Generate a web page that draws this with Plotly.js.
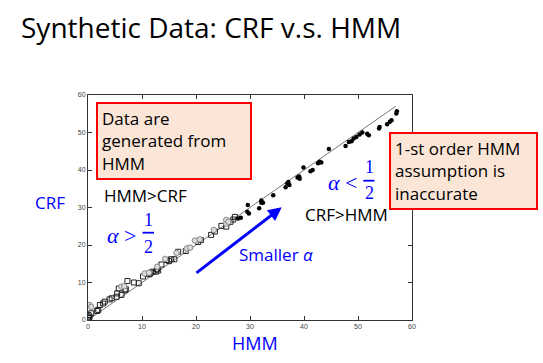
<!DOCTYPE html>
<html>
<head>
<meta charset="utf-8">
<script src="https://cdn.plot.ly/plotly-3.0.1.min.js"></script>
<style>html,body{margin:0;padding:0;background:#fff;}#chart{width:543px;height:363px;}</style>
</head>
<body>
<div id="chart"></div>
<script>
// ---- data ----
const refLineX = [0, 57];
const refLineY = [0, 57];

// open black squares (alpha > 1/2 region)
const squareX = [0,0.2,0.1,0.6,0.3,1.7,1.9,2.2,2.8,3.1,4.0,4.4,5.3,5.4,5.7,6.2,6.8,7.0,7.3,8.5,9.4,10.2,10.9,11.4,11.6,12.0,12.6,12.8,13.0,13.6,14.6,15.0,15.4,16.0,16.7,18.1,20.4,20.9,22.8,23.5,24.7,25.6,25.9,26.4,26.9,27.2];
const squareY = [0,0.5,1.3,1.8,0.9,2.4,2.7,4.0,4.4,4.9,5.5,5.8,6.2,7.1,8.4,6.7,7.9,8.2,10.4,10.0,9.8,11.6,12.3,12.2,12.6,12.9,12.9,13.5,13.2,14.8,16.0,15.7,16.2,16.2,18.2,18.4,20.8,21.3,22.7,23.6,25.1,24.9,26.0,26.2,26.8,27.5];

// gray circles
const grayX = [0.3,0.6,6.2,6.7,10.5,11.3,12.8,14.3,16.4,18.3,18.9,19.8,20.7,23.3,25.6,25.6,26.0];
const grayY = [4.0,3.5,8.9,9.0,12.4,12.6,14.2,16.3,17.9,19.1,19.3,21.2,21.5,24.0,25.7,26.7,26.2];

// filled black dots (alpha < 1/2 region)
const dotX = [27.8,28.3,29.5,29.8,29.6,31.7,32.1,32.4,32.1,34.3,36.6,36.9,37.1,37.3,38.8,39.1,39.2,39.9,41.2,41.6,42.6,42.9,43.2,44.6,47.7,48.3,48.8,49.2,49.7,50.3,50.8,51.7,52.0,53.9,54.0,55.4,55.9,56.2,57.1,57.2];
const dotY = [27.1,27.3,28.9,28.4,30.7,29.8,31.3,31.3,31.9,33.3,35.4,36.4,36.8,36.0,38.0,38.3,37.7,40.7,39.7,40.0,41.8,42.2,42.0,45.6,46.4,47.5,47.7,48.4,48.8,49.5,50.0,49.7,49.3,51.1,51.5,52.2,52.9,53.3,55.1,55.7];

const tickVals = [0,10,20,30,40,50,60];
const tickText = ['0','10','20','30','40','50','60'];

// ---- layout helpers (pixel -> paper) ----
const L = 88, R = 412, T = 95, B = 320;
const px = x => (x - L) / (R - L);
const py = y => (B - y) / (B - T);
const BLUE = '#0000ff';
const SANS = 'Open Sans, sans-serif';
const SERIF = 'Liberation Serif, DejaVu Serif, serif';

const traces = [
  {x: refLineX, y: refLineY, mode: 'lines', line: {color: '#777', width: 1}, hoverinfo: 'skip'},
  {x: squareX, y: squareY, mode: 'markers',
   marker: {symbol: 'square-open', size: 5, color: '#222', line: {width: 1}}},
  {x: grayX, y: grayY, mode: 'markers',
   marker: {symbol: 'circle', size: 5.5, color: '#dadada', line: {color: '#888', width: 1}}},
  {x: dotX, y: dotY, mode: 'markers',
   marker: {symbol: 'circle', size: 4.5, color: '#000'}}
];

function txt(text, x, y, opts) {
  return Object.assign({text: text, xref: 'paper', yref: 'paper', x: px(x), y: py(y),
    xanchor: 'left', yanchor: 'middle', showarrow: false,
    font: {family: SANS, size: 17, color: '#000'}}, opts || {});
}

const annotations = [
  txt('Synthetic Data: CRF v.s. HMM', 19, 27, {font: {family: SANS, size: 28, color: '#000'}}),
  txt('CRF', 33, 202, {font: {family: SANS, size: 17, color: BLUE}}),
  txt('HMM', 230, 343, {font: {family: SANS, size: 18, color: BLUE}}),
  txt('HMM>CRF', 102, 195),
  txt('CRF>HMM', 303, 214),
  txt('Smaller <i>α</i>', 237, 254, {font: {family: SANS, size: 17, color: BLUE}}),
  // alpha > 1/2
  txt('<i>α</i> >', 105, 235, {font: {family: SERIF, size: 22, color: BLUE}}),
  txt('1', 148.3, 220, {xanchor: 'center', font: {family: SERIF, size: 18, color: BLUE}}),
  txt('2', 148.3, 246.5, {xanchor: 'center', font: {family: SERIF, size: 18, color: BLUE}}),
  // alpha < 1/2
  txt('<i>α</i> <', 326, 182, {font: {family: SERIF, size: 22, color: BLUE}}),
  txt('1', 369, 166.5, {xanchor: 'center', font: {family: SERIF, size: 18, color: BLUE}}),
  txt('2', 369, 193, {xanchor: 'center', font: {family: SERIF, size: 18, color: BLUE}}),
  // boxes
  txt('Data are<br>generated from<br>HMM', 96, 101.7, {yanchor: 'top', align: 'left', valign: 'middle',
    width: 144, height: 66, bgcolor: '#fbe5d6', bordercolor: '#ff0000', borderwidth: 2, borderpad: 4}),
  txt('1-st order HMM<br>assumption is<br>inaccurate', 389.3, 132.3, {yanchor: 'top', align: 'left', valign: 'middle',
    width: 137, height: 66, bgcolor: '#fbe5d6', bordercolor: '#ff0000', borderwidth: 2, borderpad: 4}),
  // arrow
  {xref: 'paper', yref: 'paper', x: px(281.7), y: py(207.3), ax: 195 - 281.7, ay: 274 - 207.3,
   text: '', showarrow: true, arrowhead: 2, arrowsize: 0.9, arrowwidth: 3, arrowcolor: BLUE}
];

const shapes = [
  {type: 'line', xref: 'paper', yref: 'paper', x0: px(142.5), x1: px(154), y0: py(232.7), y1: py(232.7),
   line: {color: BLUE, width: 1.8}},
  {type: 'line', xref: 'paper', yref: 'paper', x0: px(363.3), x1: px(374.5), y0: py(180.7), y1: py(180.7),
   line: {color: BLUE, width: 1.8}}
];

const axisCommon = {
  range: [0, 60], tickvals: tickVals, ticktext: tickText,
  ticks: 'inside', ticklen: 4, tickcolor: '#333', tickwidth: 1,
  showline: true, linecolor: '#333', linewidth: 1, mirror: 'ticks',
  showgrid: false, zeroline: false,
  tickfont: {family: 'Liberation Sans, Arial, sans-serif', size: 7, color: '#444'}
};

const layout = {
  width: 543, height: 363,
  margin: {l: L, r: 543 - R, t: T, b: 363 - B, pad: 0},
  paper_bgcolor: '#fff', plot_bgcolor: '#fff',
  showlegend: false,
  font: {family: SANS},
  xaxis: Object.assign({}, axisCommon),
  yaxis: Object.assign({}, axisCommon),
  annotations: annotations,
  shapes: shapes
};

Plotly.newPlot('chart', traces, layout, {staticPlot: true, displayModeBar: false});
</script>
</body>
</html>
